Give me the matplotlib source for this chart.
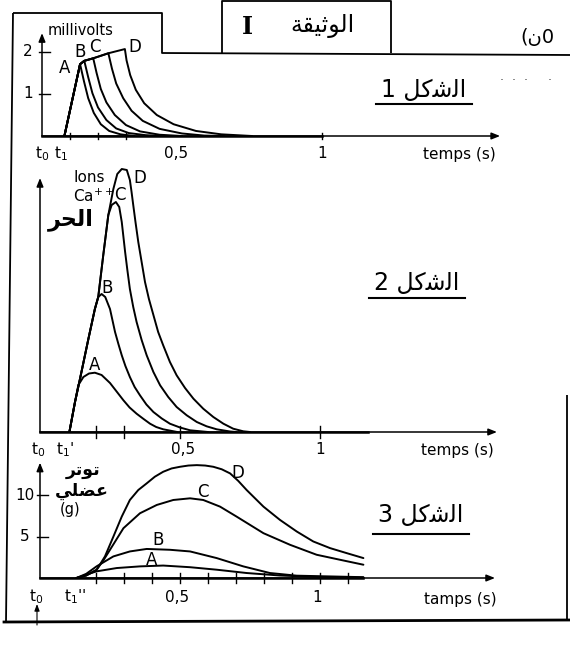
import matplotlib
matplotlib.use('Agg')
import matplotlib.pyplot as plt

plt.rcParams['font.family'] = ['DejaVu Sans']

W, H = 570, 654

# --- figure 1 : muscle action potentials (millivolts) ---
t1_A = [0.08, 0.136, 0.15, 0.165, 0.185, 0.21, 0.24, 0.28, 0.33]
v1_A = [0.0, 1.71, 1.3, 0.9, 0.55, 0.28, 0.12, 0.04, 0.0]
t1_B = [0.08, 0.136, 0.151, 0.165, 0.18, 0.2, 0.23, 0.265, 0.31, 0.37, 0.43]
v1_B = [0.0, 1.71, 1.79, 1.4, 1.02, 0.68, 0.38, 0.18, 0.07, 0.02, 0.0]
t1_C = [0.08, 0.136, 0.151, 0.183, 0.195, 0.21, 0.23, 0.26, 0.3, 0.35, 0.42, 0.5]
v1_C = [0.0, 1.71, 1.79, 1.85, 1.5, 1.12, 0.8, 0.5, 0.26, 0.11, 0.03, 0.0]
t1_E = [0.08, 0.136, 0.151, 0.183, 0.237, 0.25, 0.265, 0.29, 0.32, 0.36, 0.42, 0.5, 0.58, 0.65]
v1_E = [0.0, 1.71, 1.79, 1.85, 1.97, 1.6, 1.25, 0.9, 0.6, 0.36, 0.17, 0.06, 0.01, 0.0]
t1_D = [0.08, 0.136, 0.151, 0.183, 0.237, 0.296, 0.302, 0.315, 0.335, 0.365, 0.41, 0.47, 0.55, 0.64, 0.75]
v1_D = [0.0, 1.71, 1.79, 1.85, 1.97, 2.07, 1.8, 1.45, 1.1, 0.78, 0.5, 0.28, 0.12, 0.04, 0.0]

# --- figure 2 : free Ca++ ions (arbitrary units) ---
t2_A = [0.105, 0.125, 0.137, 0.155, 0.175, 0.196, 0.22, 0.25, 0.275, 0.298, 0.32, 0.345, 0.37,
        0.393, 0.415, 0.44, 0.49]
v2_A = [0.0, 3.0, 4.7, 5.5, 5.85, 5.93, 5.7, 4.9, 4.0, 3.17, 2.45, 1.83, 1.3, 0.83, 0.5, 0.27, 0.0]
t2_B = [0.105, 0.125, 0.143, 0.173, 0.196, 0.208, 0.22, 0.233, 0.25, 0.268, 0.28, 0.292, 0.305,
        0.321, 0.338, 0.357, 0.38, 0.405, 0.435, 0.464, 0.5, 0.536, 0.6]
v2_B = [0.0, 3.0, 5.33, 9.33, 12.3, 13.5, 13.8, 13.5, 12.3, 10.0, 8.8, 7.67, 6.6, 5.5, 4.5, 3.67,
        2.75, 2.0, 1.35, 0.83, 0.45, 0.17, 0.0]
t2_C = [0.105, 0.125, 0.143, 0.173, 0.196, 0.208, 0.226, 0.244, 0.256, 0.271, 0.283, 0.292, 0.298,
        0.304, 0.312, 0.321, 0.333, 0.345, 0.363, 0.381, 0.405, 0.429, 0.458, 0.488, 0.524, 0.56,
        0.595, 0.631, 0.679, 0.7]
v2_C = [0.0, 3.0, 5.33, 9.33, 12.3, 13.5, 17.7, 21.7, 22.7, 23.0, 22.5, 21.0, 19.5, 18.0, 16.2,
        14.3, 12.5, 11.0, 9.2, 7.67, 6.0, 4.67, 3.5, 2.5, 1.67, 1.0, 0.57, 0.27, 0.05, 0.0]
t2_D = [0.105, 0.125, 0.143, 0.173, 0.196, 0.208, 0.226, 0.244, 0.262, 0.276, 0.292, 0.31, 0.321,
        0.327, 0.333, 0.341, 0.351, 0.363, 0.375, 0.389, 0.405, 0.422, 0.44, 0.464, 0.488, 0.518,
        0.548, 0.583, 0.619, 0.655, 0.69, 0.726, 0.75]
v2_D = [0.0, 3.0, 5.33, 9.33, 12.3, 13.5, 17.7, 21.7, 24.3, 25.8, 26.3, 26.2, 25.2, 24.0, 22.7,
        21.0, 19.0, 17.0, 15.0, 13.3, 11.7, 10.0, 8.67, 7.0, 5.67, 4.4, 3.33, 2.33, 1.5, 0.83,
        0.33, 0.07, 0.0]

# --- figure 3 : muscle tension (g) ---
t3_A = [0.13, 0.165, 0.202, 0.274, 0.357, 0.44, 0.536, 0.631, 0.738, 0.857, 0.976, 1.155]
g3_A = [0.0, 0.4, 0.8, 1.2, 1.4, 1.5, 1.3, 1.0, 0.6, 0.3, 0.14, 0.05]
t3_B = [0.13, 0.165, 0.202, 0.262, 0.321, 0.381, 0.464, 0.536, 0.631, 0.726, 0.821, 0.917, 1.155]
g3_B = [0.0, 0.5, 1.4, 2.6, 3.2, 3.5, 3.4, 3.2, 2.4, 1.4, 0.6, 0.28, 0.1]
t3_C = [0.13, 0.165, 0.202, 0.226, 0.25, 0.298, 0.357, 0.417, 0.476, 0.536, 0.583, 0.643, 0.702,
        0.798, 0.893, 0.988, 1.071, 1.155]
g3_C = [0.0, 0.3, 1.0, 2.1, 3.4, 6.0, 7.8, 8.8, 9.4, 9.6, 9.4, 8.6, 7.4, 5.4, 4.0, 2.8, 2.2, 1.6]
t3_D = [0.13, 0.165, 0.202, 0.232, 0.262, 0.292, 0.321, 0.351, 0.381, 0.41, 0.44, 0.47, 0.5, 0.53,
        0.56, 0.59, 0.619, 0.649, 0.679, 0.708, 0.738, 0.798, 0.857, 0.917, 0.976, 1.036, 1.095, 1.155]
g3_D = [0.0, 0.3, 0.96, 2.6, 4.98, 7.4, 9.4, 10.6, 11.4, 12.2, 12.8, 13.2, 13.4, 13.55, 13.6, 13.55,
        13.4, 13.1, 12.6, 11.7, 10.6, 8.6, 7.0, 5.6, 4.4, 3.6, 3.0, 2.4]
ticks3 = [0.2, 0.3, 0.4, 0.5, 0.6, 0.7, 0.8, 0.9, 1.0, 1.1]

# arabic words, pre-shaped (presentation forms, visual order)
SHAKL = '\uFEDE\uFEDB\uFEB7\uFEDF\uFE8D'          # الشكل
WATHIQA = '\uFE94\uFED8\uFEF4\uFE9B\uFEEE\uFEDF\uFE8D'  # الوثيقة
HURR = '\uFEAE\uFEA4\uFEDF\uFE8D'                 # الحر
TAWATTUR = '\uFEAE\uFE97\uFEEE\uFE97'             # توتر
ADALI = '\uFEF2\uFEE0\uFEC0\uFECB'                # عضلي

fig = plt.figure(figsize=(W / 100, H / 100), dpi=100)
fig.patch.set_facecolor('white')

# page decorations in pixel coordinates
deco = fig.add_axes([0, 0, 1, 1])
deco.set_xlim(0, W)
deco.set_ylim(H, 0)
deco.axis('off')
kline = dict(color='k', lw=1.3, solid_capstyle='butt')
deco.plot([13, 6], [13, 622], **kline)
deco.plot([13, 162, 162, 570], [13, 13, 53, 55], **kline)
deco.plot([222, 222, 391, 391], [53, 1, 1, 53], **kline)
deco.plot([4, 570], [622, 620], color='k', lw=2)
deco.plot([567, 567], [395, 621], **kline)
deco.text(247, 27, 'I', fontsize=17, fontweight='bold', family='DejaVu Serif', ha='center', va='center')
deco.text(323, 26, WATHIQA, fontsize=17, ha='center', va='center')
deco.text(520, 38, '(\uFEE50', fontsize=14, ha='left', va='center')
deco.text(500, 80, '\u00b7  \u00b7  \u00b7     \u00b7', fontsize=9, ha='left', va='center', color='#444444')
for lab, xc, yc, yu in [('1', 424, 90, 104), ('2', 417, 283, 298), ('3', 421, 515, 534)]:
    deco.text(xc, yc, lab + ' ' + SHAKL, fontsize=17, ha='center', va='center')
    deco.plot([xc - 48, xc + 48], [yu, yu], color='k', lw=1.5)
deco.annotate('', xy=(37, 604), xytext=(37, 625),
              arrowprops=dict(arrowstyle='-|>,head_length=0.4,head_width=0.15', lw=0.8, color='k',
                              shrinkA=0, shrinkB=0))


def panel(top, bottom, ox, oy, sx, sy):
    ax = fig.add_axes([0, 1 - bottom / H, 1, (bottom - top) / H])
    ax.set_xlim(-ox / sx, (W - ox) / sx)
    ax.set_ylim((oy - bottom) / sy, (oy - top) / sy)
    ax.axis('off')
    return ax


def arrows(ax, xend, ytop):
    kw = dict(arrowstyle='-|>,head_length=0.5,head_width=0.2', lw=1.1, color='k', shrinkA=0, shrinkB=0)
    ax.annotate('', xy=(xend, 0), xytext=(0, 0), arrowprops=kw)
    ax.annotate('', xy=(0, ytop), xytext=(0, 0), arrowprops=kw)


def xticks(ax, ts, h):
    for t in ts:
        ax.plot([t, t], [-h, h], color='k', lw=1)


curve = dict(color='k', lw=1.4, solid_joinstyle='round', solid_capstyle='round')
lab = dict(fontsize=11, ha='center', va='center')

# panel 1
ax1 = panel(15, 170, 42, 136, 280, 42)
arrows(ax1, 1.636, 2.45)
for t, v in [(t1_A, v1_A), (t1_B, v1_B), (t1_C, v1_C), (t1_E, v1_E), (t1_D, v1_D)]:
    ax1.plot(t, v, **curve)
ax1.plot([0, 1.0], [0, 0], color='k', lw=1.8)
xticks(ax1, [0.1, 0.2, 0.3, 1.0], 0.07)
for yv in [1, 2]:
    ax1.plot([-0.01, 0.03], [yv, yv], color='k', lw=1)
    ax1.text(-0.05, yv, str(yv), **lab)
ax1.text(0.02, 2.52, 'millivolts', fontsize=10.5, ha='left', va='center')
for s, t, v in [('A', 0.082, 1.62), ('B', 0.136, 2.0), ('C', 0.189, 2.12), ('D', 0.332, 2.12)]:
    ax1.text(t, v, s, fontsize=12, ha='center', va='center')
ax1.text(0.0, -0.42, 't$_0$', **lab)
ax1.text(0.066, -0.42, 't$_1$', **lab)
ax1.text(0.48, -0.42, '0,5', **lab)
ax1.text(1.0, -0.42, '1', **lab)
ax1.text(1.49, -0.45, 'temps (s)', **lab)

# panel 2
ax2 = panel(165, 460, 40, 432, 280, 10)
arrows(ax2, 1.632, 25.4)
for t, v in [(t2_A, v2_A), (t2_B, v2_B), (t2_C, v2_C), (t2_D, v2_D)]:
    ax2.plot(t, v, **curve)
ax2.plot([0, 1.17], [0, 0], color='k', lw=1.8)
xticks(ax2, [0.2, 0.3, 0.5, 1.0], 0.6)
ax2.text(0.118, 25.4, 'Ions', fontsize=11, ha='left', va='center')
ax2.text(0.118, 23.6, 'Ca$^{++}$', fontsize=11, ha='left', va='center')
ax2.text(0.11, 21.2, HURR, fontsize=16, fontweight='bold', ha='center', va='center')
for s, t, v in [('A', 0.196, 6.7), ('B', 0.238, 14.4), ('C', 0.286, 23.7), ('D', 0.357, 25.4)]:
    ax2.text(t, v, s, fontsize=12, ha='center', va='center')
ax2.text(-0.005, -1.8, 't$_0$', **lab)
ax2.text(0.09, -1.8, "t$_1$'", **lab)
ax2.text(0.51, -1.8, '0,5', **lab)
ax2.text(1.0, -1.8, '1', **lab)
ax2.text(1.49, -1.8, 'temps (s)', **lab)

# panel 3
ax3 = panel(455, 640, 40, 578, 280, 8.3)
arrows(ax3, 1.625, 13.9)
for t, v in [(t3_A, g3_A), (t3_B, g3_B), (t3_C, g3_C), (t3_D, g3_D)]:
    ax3.plot(t, v, **curve)
ax3.plot([0, 1.155], [0, 0], color='k', lw=1.8)
xticks(ax3, ticks3, 0.6)
for yv in [5, 10]:
    ax3.plot([-0.01, 0.03], [yv, yv], color='k', lw=1)
    ax3.text(-0.055, yv, str(yv), **lab)
ax3.text(0.155, 13.0, TAWATTUR, fontsize=12.5, fontweight='bold', ha='center', va='center')
ax3.text(0.15, 10.5, ADALI, fontsize=12.5, fontweight='bold', ha='center', va='center')
ax3.text(0.107, 8.2, '(g)', fontsize=10.5, ha='center', va='center')
for s, t, v in [('A', 0.40, 2.2), ('B', 0.42, 4.6), ('C', 0.582, 10.4), ('D', 0.707, 12.6)]:
    ax3.text(t, v, s, fontsize=12, ha='center', va='center')
ax3.text(-0.015, -2.3, 't$_0$', **lab)
ax3.text(0.125, -2.3, "t$_1$''", **lab)
ax3.text(0.49, -2.3, '0,5', **lab)
ax3.text(0.99, -2.3, '1', **lab)
ax3.text(1.5, -2.6, 'tamps (s)', **lab)

fig.savefig('out.png', dpi=100, facecolor='white')
